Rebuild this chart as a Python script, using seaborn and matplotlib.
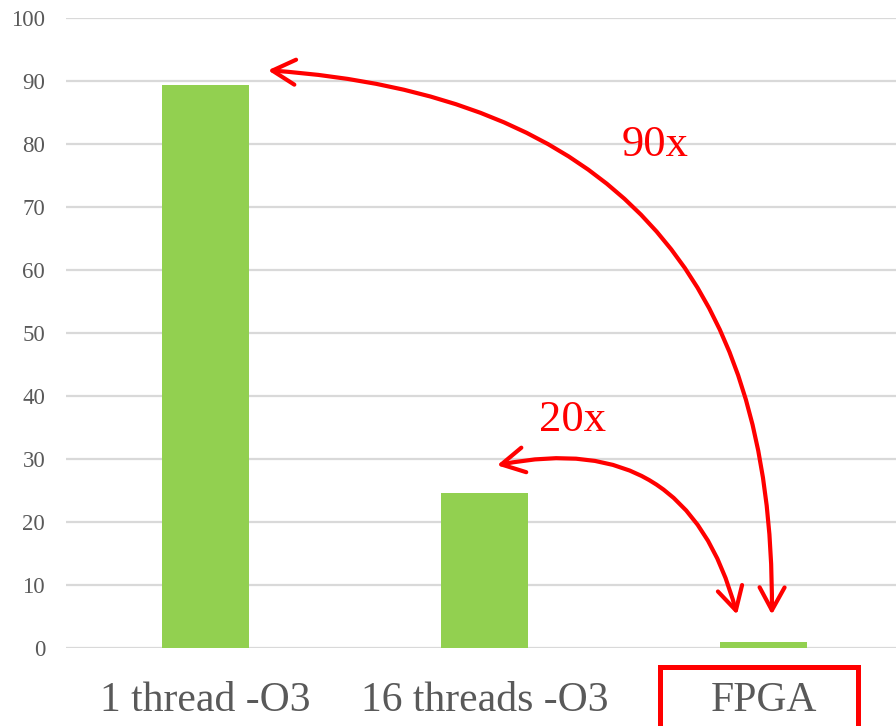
import matplotlib
matplotlib.use("Agg")
import matplotlib.pyplot as plt
import matplotlib.transforms as mtransforms
from matplotlib.patches import Rectangle
import seaborn as sns

# Runtime per configuration
categories = ["1 thread -O3", "16 threads -O3", "FPGA"]
runtimes = [89.4, 24.6, 1.0]
y_ticks = [0, 10, 20, 30, 40, 50, 60, 70, 80, 90, 100]
speedup_labels = ["90x", "20x"]

sns.set_style("white")
plt.rcParams["font.family"] = ["Liberation Serif", "DejaVu Serif"]

W, H = 896, 726
fig = plt.figure(figsize=(W / 100, H / 100), dpi=100)
ax = fig.add_axes([66 / W, 78 / H, (903 - 66) / W, 630 / H])

sns.barplot(x=categories, y=runtimes, color="#92d050", saturation=1,
            width=0.31, linewidth=0, ax=ax)

ax.set_xlim(-0.5, 2.5)
ax.set_ylim(0, 100)
ax.set_yticks(y_ticks)
ax.yaxis.grid(True, color="#d9d9d9", linewidth=1.6)
ax.set_axisbelow(True)
for s in ax.spines.values():
    s.set_visible(False)
ax.set_xlabel("")
ax.set_ylabel("")
ax.tick_params(axis="y", length=0, pad=15, labelsize=16.5, labelcolor="#595959")
ax.tick_params(axis="x", length=0, pad=24, labelsize=30, labelcolor="#595959")

red = "#ff0000"
arrow_style = "<->,head_length=0.55,head_width=0.3"

# Speedup arrows from the CPU bars down to the FPGA bar
ax.annotate("", xy=(0.224, runtimes[0] + 2.3), xytext=(2.03, runtimes[2] + 4.3),
            arrowprops=dict(arrowstyle=arrow_style, color=red, lw=3,
                            mutation_scale=30, shrinkA=0, shrinkB=0,
                            connectionstyle="arc3,rad=0.47"))
ax.annotate("", xy=(1.045, runtimes[1] + 4.4), xytext=(1.905, runtimes[2] + 4.3),
            arrowprops=dict(arrowstyle=arrow_style, color=red, lw=3,
                            mutation_scale=30, shrinkA=0, shrinkB=0,
                            connectionstyle="arc3,rad=0.47"))

ax.text(1.611, 79.8, speedup_labels[0], color=red, fontsize=32,
        ha="center", va="center")
ax.text(1.317, 36.2, speedup_labels[1], color=red, fontsize=32,
        ha="center", va="center")

# Highlight box around the FPGA label
trans = mtransforms.blended_transform_factory(ax.transData, ax.transAxes)
ax.add_patch(Rectangle((2 - 0.371, -0.15), 0.708, 0.15 - 0.0294,
                       transform=trans, fill=False, edgecolor=red,
                       linewidth=3.6, clip_on=False))

fig.savefig("out.png", dpi=100)
